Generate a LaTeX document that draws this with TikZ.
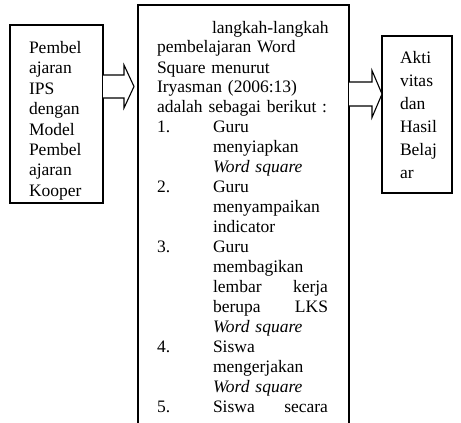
\documentclass[tikz,border=0pt]{standalone}
\usepackage{fontspec}
\setmainfont{Liberation Serif}
\begin{document}
\begin{tikzpicture}[x=1pt,y=-1pt,
  box/.style={draw,line width=1.2pt,inner sep=0pt,outer sep=0pt,anchor=north west},
  blockarrow/.style={draw,line width=1.1pt,line join=miter,fill=white},
  txt/.style={inner sep=0pt,outer sep=0pt,anchor=base west,align=left}]
\useasboundingbox (0,0) rectangle (461,423);
\clip (0,0) rectangle (461,423);
% boxes
\node[box,minimum width=93pt,minimum height=178pt] (lbox) at (10,25) {};
\node[box,minimum width=211pt,minimum height=440pt] (mbox) at (138,5) {};
\node[box,minimum width=70pt,minimum height=157pt] (rbox) at (382,36) {};
% arrows
\coordinate (la) at (lbox.east |- 0,86.5);
\draw[blockarrow] (la) +(0,-11.5) -- +(21,-11.5) -- +(21,-21.5) -- +(31,0)
  -- +(21,21.5) -- +(21,11.5) -- +(0,11.5);
\coordinate (ra) at (mbox.east |- 0,94);
\draw[blockarrow] (ra) +(0,-12) -- +(23,-12) -- +(23,-23.5) -- +(33,0)
  -- +(23,23.5) -- +(23,12) -- +(0,12);
% left text
\begin{scope}
\clip (11,26) rectangle (102,199);
\node[txt,text width=70pt,font=\fontsize{17.5}{20.5}\selectfont] (ltext) at (29,53)
  {Pembel\\ajaran\\IPS\\dengan\\Model\\Pembel\\ajaran\\Kooper};
\end{scope}
% middle text
\node[txt,text width=174pt,font=\fontsize{17.5}{20}\selectfont] (mtext) at (157,33)
  {\hspace*{55pt}\mbox{langkah-langkah}\\
   pembelajaran Word\\
   Square menurut\\
   Iryasman (2006:13)\\
   adalah sebagai berikut :\\
   \makebox[56pt][l]{1.}Guru\\
   \hspace*{56pt}menyiapkan\\
   \hspace*{56pt}\textit{Word square}\\
   \makebox[56pt][l]{2.}Guru\\
   \hspace*{56pt}menyampaikan\\
   \hspace*{56pt}indicator\\
   \makebox[56pt][l]{3.}Guru\\
   \hspace*{56pt}membagikan\\
   \hspace*{56pt}\makebox[115pt][s]{lembar\hfill kerja}\\
   \hspace*{56pt}\makebox[115pt][s]{berupa\hfill LKS}\\
   \hspace*{56pt}\textit{Word square}\\
   \makebox[56pt][l]{4.}Siswa\\
   \hspace*{56pt}mengerjakan\\
   \hspace*{56pt}\textit{Word square}\\
   \makebox[56pt][l]{5.}\makebox[115pt][s]{Siswa\hfill secara}};
% right text
\node[txt,text width=50pt,font=\fontsize{17.5}{23.2}\selectfont] (rtext) at (400,63)
  {Akti\\vitas\\dan\\Hasil\\Belaj\\ar};
\end{tikzpicture}
\end{document}
